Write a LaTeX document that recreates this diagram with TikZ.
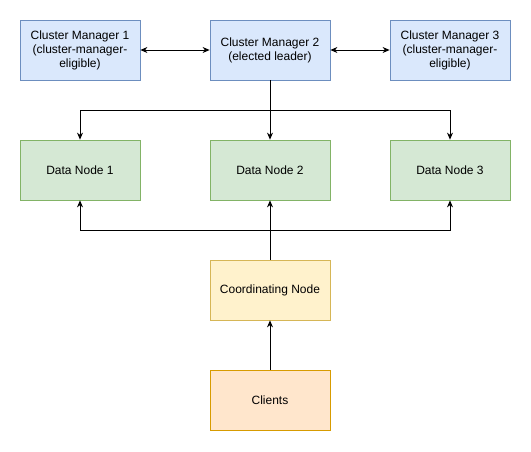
\documentclass[tikz,border=0pt]{standalone}
\usepackage{fontspec}
\setmainfont{Liberation Sans}
\usetikzlibrary{arrows.meta}

\definecolor{mgrfill}{HTML}{DAE8FC}
\definecolor{mgrline}{HTML}{6C8EBF}
\definecolor{datafill}{HTML}{D5E8D4}
\definecolor{dataline}{HTML}{82B366}
\definecolor{crdfill}{HTML}{FFF2CC}
\definecolor{crdline}{HTML}{D6B656}
\definecolor{clifill}{HTML}{FFE6CC}
\definecolor{cliline}{HTML}{D79B00}

\tikzset{
  box/.style={draw, line width=0.8pt, minimum width=120pt, minimum height=60pt,
    inner sep=0pt, align=center, font=\fontsize{12}{14}\selectfont},
  mgr/.style={box, fill=mgrfill, draw=mgrline},
  data/.style={box, fill=datafill, draw=dataline},
  crd/.style={box, fill=crdfill, draw=crdline},
  cli/.style={box, fill=clifill, draw=cliline},
  link/.style={line width=0.8pt, -{Stealth[length=7pt,width=6pt]}},
}

\begin{document}
\begin{tikzpicture}[x=1pt,y=-1pt]
\useasboundingbox (0,0) rectangle (531,451);
%% cluster managers
\node[mgr] (cmone) at (80,50) {Cluster Manager 1\\(cluster-manager-\\eligible)};
\node[mgr] (cmtwo) at (270,50) {Cluster Manager 2\\(elected leader)};
\node[mgr] (cmthree) at (450,50) {Cluster Manager 3\\(cluster-manager-\\eligible)};
%% data nodes
\node[data] (dnone) at (80,170) {Data Node 1};
\node[data] (dntwo) at (270,170) {Data Node 2};
\node[data] (dnthree) at (450,170) {Data Node 3};
%% coordinating node and clients
\node[crd] (coord) at (270,290) {Coordinating Node};
\node[cli] (clients) at (270,400) {Clients};
\coordinate (topsplit) at (270,110);
\coordinate (botsplit) at (270,230);
%% manager links
\draw[link, {Stealth[length=7pt,width=6pt]}-{Stealth[length=7pt,width=6pt]}] (cmone) -- (cmtwo);
\draw[link, {Stealth[length=7pt,width=6pt]}-{Stealth[length=7pt,width=6pt]}] (cmtwo) -- (cmthree);
%% leader to data nodes
\draw[line width=0.8pt] (cmtwo.south) -- (topsplit);
\draw[link] (topsplit) -| (dnone.north);
\draw[link] (topsplit) -- (dntwo.north);
\draw[link] (topsplit) -| (dnthree.north);
%% coordinating node to data nodes
\draw[line width=0.8pt] (coord.north) -- (botsplit);
\draw[link] (botsplit) -| (dnone.south);
\draw[link] (botsplit) -- (dntwo.south);
\draw[link] (botsplit) -| (dnthree.south);
\draw[link] (clients) -- (coord);
\end{tikzpicture}
\end{document}
